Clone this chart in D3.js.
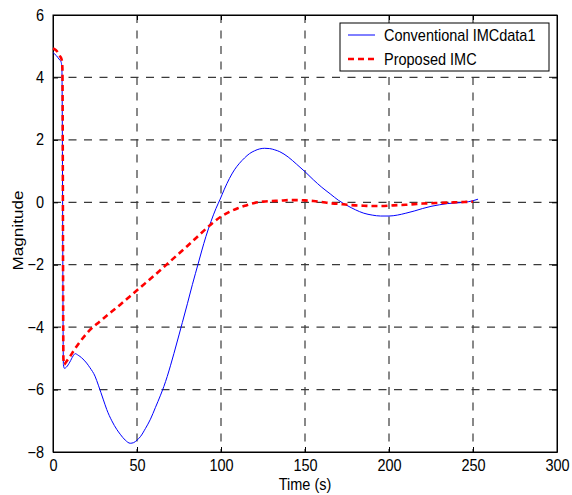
<!DOCTYPE html>
<html>
<head>
<meta charset="utf-8">
<script src="https://cdn.jsdelivr.net/npm/d3@7"></script>
<style>
  body { margin: 0; background: #fff; }
  svg { font-family: 'Liberation Sans', Arial, sans-serif; }
</style>
</head>
<body>
<div id="chart"></div>
<script>
'use strict';

// time (s), magnitude
var conventional = [
  [0, 4.8], [1, 4.75], [2, 4.7], [3, 4.63], [4, 4.56], [4.8, 4.5], [5.3, 4.3],
  [6.2, -5.2], [6.8, -5.32], [8, -5.28], [10, -5.12], [12, -4.92], [13.2, -4.85],
  [15, -4.9], [17, -4.98], [20, -5.15], [22, -5.3], [25, -5.57], [27, -5.86],
  [30, -6.33], [32, -6.64], [35, -7.0], [38, -7.28], [40, -7.43], [43, -7.62],
  [46, -7.72], [48, -7.7], [50, -7.62], [52, -7.51], [55, -7.25], [58, -6.95],
  [61, -6.57], [64, -6.18], [66, -5.9], [68, -5.58], [70, -5.22], [72, -4.84],
  [75, -4.25], [77, -3.85], [80, -3.25], [83, -2.63], [86.5, -1.95], [88.5, -1.56],
  [91, -1.1], [94, -0.62], [97, -0.2], [99.5, 0.1], [102, 0.42], [105, 0.76],
  [108, 1.04], [111, 1.25], [114, 1.42], [117, 1.56], [120, 1.65], [123, 1.71],
  [126, 1.73], [129, 1.72], [132, 1.68], [135, 1.62], [140, 1.45], [145, 1.22],
  [150, 0.98], [155, 0.72], [160, 0.48], [165, 0.27], [170, 0.06], [175, -0.1],
  [180, -0.24], [185, -0.35], [190, -0.41], [195, -0.44], [200, -0.44], [205, -0.41],
  [210, -0.35], [215, -0.28], [220, -0.2], [225, -0.13], [230, -0.08], [235, -0.04],
  [240, -0.02], [245, 0.0], [250, 0.05], [253, 0.1]
];

var proposed = [
  [0, 4.93], [1, 4.9], [2, 4.86], [3.2, 4.78], [4.2, 4.68], [5.2, 4.56], [5.6, 4.3],
  [6.2, -5.0], [6.6, -5.2], [8, -5.1], [10, -4.95], [13, -4.7], [16, -4.47],
  [19, -4.27], [22, -4.09], [26, -3.9], [30, -3.72], [35, -3.5], [40, -3.28],
  [45, -3.05], [50, -2.82], [55, -2.59], [60, -2.36], [65, -2.12], [70, -1.88],
  [75, -1.64], [80, -1.4], [85, -1.15], [90, -0.9], [95, -0.66], [100, -0.46],
  [105, -0.31], [110, -0.19], [115, -0.1], [120, -0.02], [125, 0.02], [130, 0.04],
  [135, 0.05], [140, 0.07], [145, 0.07], [150, 0.06], [155, 0.04], [160, 0.01],
  [165, -0.03], [170, -0.05], [175, -0.08], [180, -0.1], [185, -0.11], [190, -0.12],
  [195, -0.12], [200, -0.11], [205, -0.09], [210, -0.08], [215, -0.06], [220, -0.04],
  [225, -0.03], [230, -0.02], [235, -0.01], [240, 0], [245, 0.01], [250, 0.02]
];

var xTicks = [0, 50, 100, 150, 200, 250, 300];
var yTicks = [-8, -6, -4, -2, 0, 2, 4, 6];
var legendLabels = ['Conventional IMCdata1', 'Proposed IMC'];

var margins = {left: 53, right: 15, top: 15, bottom: 43};
var width = 572 - margins.left - margins.right;
var height = 495 - margins.top - margins.bottom;
var fontSize = '14.5px';
var stretch = 'scale(1,1.1)';   // matlab text comes out a bit taller than arial

var svg = d3.select('#chart').append('svg')
  .attr('width', 572)
  .attr('height', 495);

var xScale = d3.scaleLinear().domain([0, 300]).range([0, width]);
var yScale = d3.scaleLinear().domain([-8, 6]).range([height, 0]);

var chart = svg.append('g')
  .attr('transform', 'translate(' + margins.left + ',' + margins.top + ')');

// grid
var grid = chart.append('g')
  .attr('stroke', '#3a3a3a')
  .attr('stroke-width', 1.2)
  .attr('stroke-dasharray', '8,7.5');

grid.selectAll('.vgrid')
  .data(xTicks.slice(1, -1))
  .enter().append('line')
  .attr('class', 'vgrid')
  .attr('x1', function(d) { return xScale(d); })
  .attr('x2', function(d) { return xScale(d); })
  .attr('y1', 0).attr('y2', height);

grid.selectAll('.hgrid')
  .data(yTicks.slice(1, -1))
  .enter().append('line')
  .attr('class', 'hgrid')
  .attr('y1', function(d) { return yScale(d); })
  .attr('y2', function(d) { return yScale(d); })
  .attr('x1', 0).attr('x2', width);

// axes, ticks inside like matlab
var xAxis = d3.axisBottom(xScale).tickValues(xTicks).tickSizeInner(-5).tickSizeOuter(0).tickPadding(7);
var yAxis = d3.axisLeft(yScale).tickValues(yTicks).tickSizeInner(-5).tickSizeOuter(0).tickPadding(9);

chart.append('g')
  .attr('class', 'xAxis')
  .attr('transform', 'translate(0,' + height + ')')
  .call(xAxis);
chart.append('g')
  .attr('class', 'yAxis')
  .call(yAxis);
chart.append('g')
  .attr('class', 'xAxisTop')
  .call(d3.axisTop(xScale).tickValues(xTicks).tickSizeInner(-5).tickSizeOuter(0).tickFormat(''));
chart.append('g')
  .attr('class', 'yAxisRight')
  .attr('transform', 'translate(' + width + ',0)')
  .call(d3.axisRight(yScale).tickValues(yTicks).tickSizeInner(-5).tickSizeOuter(0).tickFormat(''));

chart.selectAll('.domain').attr('stroke', '#000');
chart.selectAll('.tick line').attr('stroke', '#000');
chart.selectAll('.tick text')
  .attr('fill', '#000')
  .attr('transform', stretch)
  .style('font-size', fontSize)
  .style('font-family', "'Liberation Sans', Arial, sans-serif");

chart.append('rect')
  .attr('width', width).attr('height', height)
  .attr('fill', 'none').attr('stroke', '#000');

// curves
var line = d3.line()
  .curve(d3.curveMonotoneX)
  .x(function(d) { return xScale(d[0]); })
  .y(function(d) { return yScale(d[1]); });

chart.append('path')
  .datum(conventional)
  .attr('d', line)
  .attr('fill', 'none')
  .attr('stroke', '#0000ff')
  .attr('stroke-width', 1);

chart.append('path')
  .datum(proposed)
  .attr('d', line)
  .attr('fill', 'none')
  .attr('stroke', '#ff0000')
  .attr('stroke-width', 2.6)
  .attr('stroke-dasharray', '6,4');

// labels
svg.append('text')
  .attr('transform', 'translate(' + (margins.left + width / 2) + ',490) ' + stretch)
  .attr('text-anchor', 'middle')
  .style('font-size', fontSize)
  .text('Time (s)');

svg.append('text')
  .attr('transform', 'translate(23,' + (margins.top + height / 2 - 3) + ') rotate(-90) scale(1.18,1)')
  .attr('text-anchor', 'middle')
  .style('font-size', fontSize)
  .text('Magnitude');

// legend
var legend = svg.append('g').attr('transform', 'translate(340,23)');
legend.append('rect')
  .attr('width', 209).attr('height', 48)
  .attr('fill', '#fff').attr('stroke', '#000');

var styles = [
  {color: '#0000ff', width: 1, dash: null},
  {color: '#ff0000', width: 2.6, dash: '6,4'}
];

legend.selectAll('.item')
  .data(legendLabels)
  .enter().append('g')
  .attr('class', 'item')
  .attr('transform', function(d, i) { return 'translate(0,' + (12 + i * 24) + ')'; })
  .each(function(d, i) {
    var g = d3.select(this);
    g.append('line')
      .attr('x1', 8).attr('x2', 35)
      .attr('stroke', styles[i].color)
      .attr('stroke-width', styles[i].width)
      .attr('stroke-dasharray', styles[i].dash);
    g.append('text')
      .attr('transform', 'translate(44,6) ' + stretch)
      .style('font-size', fontSize)
      .text(d);
  });
</script>
</body>
</html>
